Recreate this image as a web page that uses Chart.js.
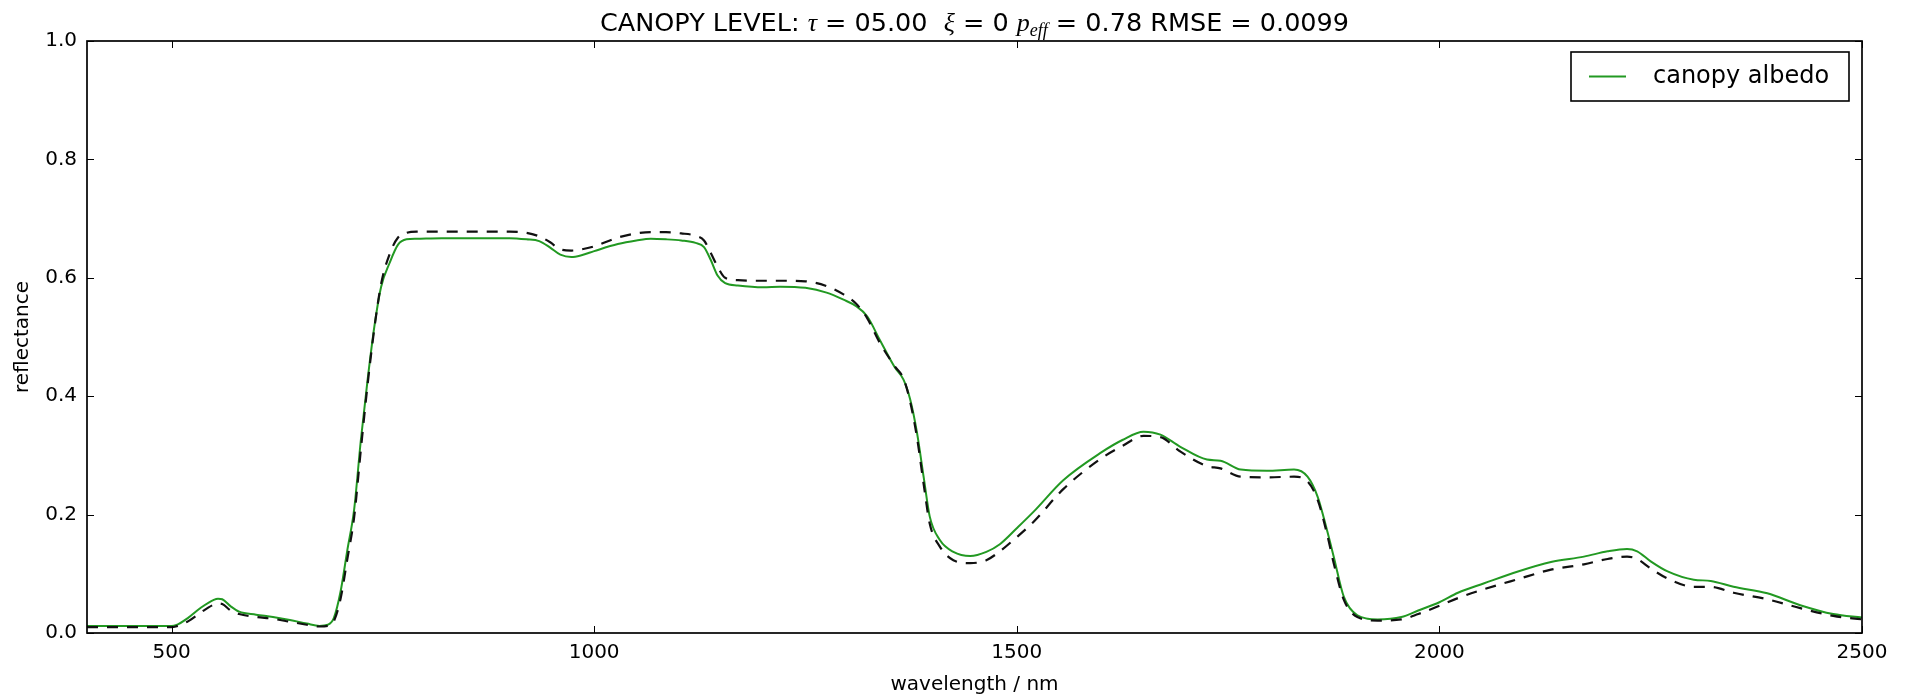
<!DOCTYPE html>
<html>
<head>
<meta charset="utf-8">
<title>canopy albedo</title>
<script src="https://cdn.jsdelivr.net/npm/chart.js@4.4.1/dist/chart.umd.min.js"></script>
<style>
  html, body { margin: 0; padding: 0; background: #fff; }
  canvas { display: block; }
</style>
</head>
<body>
<canvas id="chart" width="1908" height="698"></canvas>
<script>
// wavelengths in nm
const wavelengths = [
  400, 450, 500, 505, 520, 535, 550, 555, 560, 570,
  580, 600, 620, 640, 660, 675, 685, 692, 700, 708,
  716, 724, 732, 740, 748, 758, 768, 778, 790, 820,
  860, 900, 920, 935, 948, 960, 973, 985, 1000, 1028,
  1050, 1067, 1085, 1103, 1120, 1130, 1138, 1146, 1155, 1170,
  1200, 1220, 1250, 1275, 1295, 1310, 1323, 1338, 1356, 1366,
  1374, 1382, 1390, 1397, 1409, 1425, 1445, 1464, 1480, 1500,
  1520, 1555, 1600, 1625, 1650, 1670, 1693, 1725, 1741, 1765,
  1796, 1828, 1844, 1856, 1867, 1875, 1887, 1903, 1927, 1955,
  1975, 2000, 2022, 2053, 2093, 2132, 2171, 2199, 2222, 2234,
  2250, 2270, 2301, 2321, 2348, 2388, 2427, 2466, 2500
];

// green solid line (legend: canopy albedo)
const canopyAlbedo = [
  0.012, 0.012, 0.012, 0.013, 0.026, 0.043, 0.056, 0.058, 0.057, 0.045,
  0.036, 0.031, 0.027, 0.022, 0.016, 0.012, 0.014, 0.025, 0.070, 0.140,
  0.208, 0.326, 0.428, 0.518, 0.585, 0.625, 0.656, 0.665, 0.666, 0.667,
  0.667, 0.667, 0.665, 0.662, 0.651, 0.639, 0.635, 0.638, 0.645, 0.657,
  0.663, 0.666, 0.665, 0.663, 0.659, 0.652, 0.630, 0.604, 0.591, 0.587,
  0.584, 0.585, 0.583, 0.575, 0.563, 0.552, 0.535, 0.495, 0.448, 0.428,
  0.394, 0.338, 0.262, 0.197, 0.157, 0.137, 0.130, 0.137, 0.150, 0.177,
  0.205, 0.258, 0.305, 0.326, 0.340, 0.335, 0.315, 0.293, 0.291, 0.276,
  0.274, 0.276, 0.264, 0.230, 0.174, 0.129, 0.061, 0.030, 0.023, 0.027,
  0.038, 0.052, 0.068, 0.084, 0.104, 0.120, 0.129, 0.138, 0.142, 0.138,
  0.121, 0.104, 0.090, 0.088, 0.078, 0.067, 0.047, 0.032, 0.026
];

// black dashed line (no legend entry)
const measured = [
  0.010, 0.010, 0.010, 0.011, 0.020, 0.035, 0.048, 0.050, 0.049, 0.038,
  0.032, 0.027, 0.024, 0.019, 0.014, 0.011, 0.012, 0.020, 0.058, 0.125,
  0.195, 0.310, 0.420, 0.515, 0.590, 0.640, 0.668, 0.676, 0.678, 0.678,
  0.678, 0.678, 0.676, 0.670, 0.660, 0.648, 0.646, 0.648, 0.653, 0.668,
  0.675, 0.677, 0.677, 0.675, 0.671, 0.663, 0.642, 0.619, 0.600, 0.596,
  0.595, 0.595, 0.594, 0.586, 0.572, 0.556, 0.532, 0.490, 0.450, 0.430,
  0.390, 0.330, 0.250, 0.185, 0.146, 0.123, 0.118, 0.123, 0.138, 0.162,
  0.188, 0.243, 0.295, 0.316, 0.333, 0.331, 0.307, 0.282, 0.278, 0.264,
  0.263, 0.264, 0.256, 0.225, 0.168, 0.118, 0.056, 0.027, 0.021, 0.023,
  0.032, 0.046, 0.059, 0.074, 0.091, 0.107, 0.116, 0.125, 0.129, 0.125,
  0.109, 0.092, 0.078, 0.078, 0.068, 0.057, 0.042, 0.029, 0.023
];

const xTicks = [500, 1000, 1500, 2000, 2500];
const yTicks = [0.0, 0.2, 0.4, 0.6, 0.8, 1.0];

// title pieces, math ones in italic serif like mathtext
const titleParts = [
  { text: 'CANOPY LEVEL: ' },
  { text: 'τ', math: true },
  { text: ' = 05.00  ' },
  { text: 'ξ', math: true },
  { text: ' = 0 ' },
  { text: 'p', math: true },
  { text: 'eff', math: true, sub: true },
  { text: ' = 0.78 RMSE = 0.0099' }
];

const SANS = '"DejaVu Sans", sans-serif';
const GREEN = '#229922';

function toPoints(ys) {
  return wavelengths.map((w, i) => ({ x: w, y: ys[i] }));
}

const titlePlugin = {
  id: 'mplTitle',
  afterDraw(chart) {
    const { ctx, chartArea } = chart;
    ctx.save();
    ctx.fillStyle = '#000';
    ctx.textBaseline = 'alphabetic';
    const fontFor = p => p.math
      ? `italic ${p.sub ? 18 : 26}px "Liberation Serif", serif`
      : `25.5px ${SANS}`;
    let total = 0;
    titleParts.forEach(p => { ctx.font = fontFor(p); total += ctx.measureText(p.text).width; });
    let x = (chartArea.left + chartArea.right) / 2 - total / 2;
    const base = 31;
    titleParts.forEach(p => {
      ctx.font = fontFor(p);
      ctx.fillText(p.text, x, p.sub ? base + 5 : base);
      x += ctx.measureText(p.text).width;
    });
    ctx.restore();
  }
};

// frame on four sides with ticks pointing inwards
const framePlugin = {
  id: 'frame',
  afterDatasetsDraw(chart) {
    const { ctx, chartArea: a, scales: { x, y } } = chart;
    ctx.save();
    ctx.strokeStyle = '#000';
    ctx.lineWidth = 1;
    ctx.beginPath();
    xTicks.forEach(v => {
      const px = Math.round(x.getPixelForValue(v)) + 0.5;
      ctx.moveTo(px, a.bottom); ctx.lineTo(px, a.bottom - 7);
      ctx.moveTo(px, a.top); ctx.lineTo(px, a.top + 7);
    });
    yTicks.forEach(v => {
      const py = Math.round(y.getPixelForValue(v)) + 0.5;
      ctx.moveTo(a.left, py); ctx.lineTo(a.left + 7, py);
      ctx.moveTo(a.right, py); ctx.lineTo(a.right - 7, py);
    });
    ctx.stroke();
    ctx.lineWidth = 1.7;
    ctx.strokeRect(a.left, a.top, a.right - a.left, a.bottom - a.top);
    ctx.restore();
  }
};

const legendPlugin = {
  id: 'mplLegend',
  afterDraw(chart) {
    const { ctx, chartArea: a } = chart;
    const ds = chart.data.datasets.find(d => d.label);
    const right = a.right - 13, top = a.top + 11;
    const w = 278, h = 49;
    ctx.save();
    ctx.fillStyle = '#fff';
    ctx.fillRect(right - w, top, w, h);
    ctx.strokeStyle = '#000';
    ctx.lineWidth = 1.6;
    ctx.strokeRect(right - w, top, w, h);
    const cy = top + h / 2;
    ctx.strokeStyle = ds.borderColor;
    ctx.lineWidth = ds.borderWidth;
    ctx.beginPath();
    ctx.moveTo(right - w + 18, cy);
    ctx.lineTo(right - w + 55, cy);
    ctx.stroke();
    ctx.fillStyle = '#000';
    ctx.font = `24px ${SANS}`;
    ctx.textBaseline = 'middle';
    ctx.fillText(ds.label, right - w + 82, cy);
    ctx.restore();
  }
};

new Chart(document.getElementById('chart'), {
  type: 'line',
  data: {
    datasets: [
      {
        data: toPoints(measured),
        borderColor: '#111',
        borderWidth: 2.2,
        borderDash: [11, 9],
        pointRadius: 0,
        cubicInterpolationMode: 'monotone',
        order: 0
      },
      {
        label: 'canopy albedo',
        data: toPoints(canopyAlbedo),
        borderColor: GREEN,
        borderWidth: 2,
        pointRadius: 0,
        cubicInterpolationMode: 'monotone',
        order: 1
      }
    ]
  },
  options: {
    responsive: false,
    animation: false,
    layout: { padding: { top: 41, right: 46, left: 0, bottom: 0 } },
    plugins: {
      legend: { display: false },
      tooltip: { enabled: false },
      title: { display: false }
    },
    scales: {
      x: {
        type: 'linear',
        min: 400,
        max: 2500,
        afterBuildTicks: s => { s.ticks = xTicks.map(v => ({ value: v })); },
        afterFit: s => { s.height = 65; },
        grid: { display: false, drawTicks: false },
        border: { display: false },
        ticks: {
          color: '#000',
          padding: 8,
          maxRotation: 0,
          font: { family: SANS, size: 20 },
          callback: v => String(v)
        },
        title: {
          display: true,
          text: 'wavelength / nm',
          color: '#000',
          padding: { top: 0, bottom: 1 },
          font: { family: SANS, size: 20 }
        }
      },
      y: {
        min: 0,
        max: 1,
        afterBuildTicks: s => { s.ticks = yTicks.map(v => ({ value: v })); },
        afterFit: s => { s.width = 87; },
        grid: { display: false, drawTicks: false },
        border: { display: false },
        ticks: {
          color: '#000',
          padding: 10,
          font: { family: SANS, size: 20 },
          callback: v => v.toFixed(1)
        },
        title: {
          display: true,
          text: 'reflectance',
          color: '#000',
          padding: { top: 11, bottom: 0 },
          font: { family: SANS, size: 20 }
        }
      }
    }
  },
  plugins: [framePlugin, legendPlugin, titlePlugin]
});
</script>
</body>
</html>
